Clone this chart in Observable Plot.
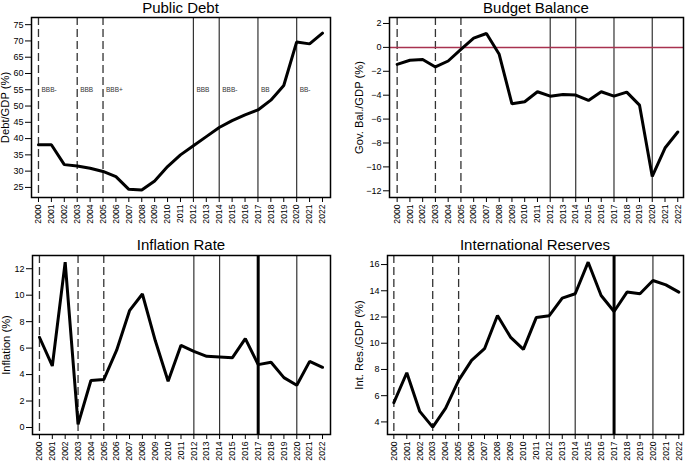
<!DOCTYPE html>
<html>
<head>
<meta charset="utf-8">
<script src="https://cdn.jsdelivr.net/npm/d3@7"></script>
<script src="https://cdn.jsdelivr.net/npm/@observablehq/plot@0.6"></script>
<style>
  html, body { margin: 0; padding: 0; background: white; }
  body { width: 685px; height: 461px; position: relative; overflow: hidden; font-family: "Liberation Sans", Arial, sans-serif; }
  .panel { position: absolute; }
  .title { font-size: 15px; line-height: 16px; height: 16px; text-align: center; color: #000; white-space: nowrap; box-sizing: border-box; }
  svg { display: block; }
</style>
</head>
<body>
<div id="root"></div>
<script>
const years = d3.range(2000, 2023);
const debt = [38.1, 38.1, 32.0, 31.6, 30.9, 29.9, 28.3, 24.4, 24.2, 27.0, 31.4, 35.0, 37.8, 40.6, 43.4, 45.5, 47.3, 48.8, 51.8, 56.3, 69.7, 69.1, 72.4];
const balance = [-1.42, -1.08, -1.02, -1.64, -1.14, -0.16, 0.77, 1.16, -0.58, -4.72, -4.55, -3.71, -4.08, -3.94, -3.99, -4.44, -3.71, -4.08, -3.74, -4.83, -10.8, -8.42, -7.08];
const inflation = [6.82, 4.65, 12.5, 0.23, 3.55, 3.62, 5.84, 8.83, 10.09, 6.57, 3.5, 6.21, 5.76, 5.38, 5.33, 5.28, 6.72, 4.75, 4.93, 3.77, 3.19, 5.0, 4.55];
const reserves = [5.47, 7.75, 4.8, 3.6, 5.05, 7.17, 8.69, 9.58, 12.12, 10.47, 9.53, 11.97, 12.1, 13.44, 13.77, 16.18, 13.64, 12.42, 13.9, 13.77, 14.78, 14.45, 13.9];

const dashedYears = [2000, 2003, 2005];
const solidYears = [2012, 2014, 2017, 2020];
const ratingYears = [2000, 2003, 2005, 2012, 2014, 2017, 2020];
const ratingLabels = ["BBB-", "BBB", "BBB+", "BBB", "BBB-", "BB", "BB-"];
const ratingLevel = 55;

const titles = ["Public Debt", "Budget Balance", "Inflation Rate", "International Reserves"];
const yLabels = ["Debt/GDP (%)", "Gov. Bal./GDP (%)", "Inflation (%)", "Int. Res./GDP (%)"];
const yTicks = [d3.range(25, 80, 5), d3.range(-12, 4, 2), d3.range(0, 14, 2), d3.range(4, 18, 2)];

const panels = [
  {values: debt, left: 0, top: 0, width: 342, ml: 31, mr: 12, mt: 1, xdom: [1999.46, 2022.62], ydom: [21.9, 77.2], ticks: yTicks[0], labelDx: -26, ratings: true, thick2017: false},
  {values: balance, left: 342, top: 0, width: 343, ml: 47, mr: 2, mt: 1, xdom: [1999.4, 2022.45], ydom: [-12.56, 2.5], ticks: yTicks[1], labelDx: -30, zero: true, thick2017: false},
  {values: inflation, left: 0, top: 237, width: 342, ml: 32, mr: 12, mt: 2, xdom: [1999.46, 2022.62], ydom: [-0.53, 13.0], ticks: yTicks[2], labelDx: -26.5, thick2017: true},
  {values: reserves, left: 342, top: 237, width: 343, ml: 45, mr: 2, mt: 2, xdom: [1999.51, 2022.36], ydom: [3.04, 16.69], ticks: yTicks[3], labelDx: -28, thick2017: true}
];

const root = document.getElementById("root");
panels.forEach((p, i) => {
  const data = years.map((y, k) => ({year: y, value: p.values[k]}));
  const marks = [
    Plot.axisX({ticks: years, tickFormat: d => String(d), tickRotate: -90, tickSize: 5, tickPadding: 2, fontSize: 8.6, label: null}),
    Plot.axisY({ticks: p.ticks, tickSize: 6, tickPadding: 2, fontSize: 9, label: null}),
    Plot.ruleX(dashedYears, {stroke: "#333", strokeWidth: 1.3, strokeDasharray: "8,4"}),
    Plot.ruleX(p.thick2017 ? solidYears.filter(y => y !== 2017) : solidYears, {stroke: "#333", strokeWidth: 1.2}),
  ];
  if (p.thick2017) marks.push(Plot.ruleX([2017], {stroke: "#000", strokeWidth: 3}));
  if (p.zero) marks.push(Plot.ruleY([0], {stroke: "#a8324f", strokeWidth: 1.5}));
  if (p.ratings) {
    marks.push(Plot.text(ratingYears.map((y, k) => ({year: y, label: ratingLabels[k]})), {
      x: "year", y: () => ratingLevel, text: "label", textAnchor: "start", dx: 3, fontSize: 6.5, fill: "#333"
    }));
  }
  marks.push(Plot.line(data, {x: "year", y: "value", stroke: "black", strokeWidth: 3, strokeLinejoin: "miter"}));
  marks.push(Plot.frame({stroke: "black", strokeWidth: 1.5}));
  marks.push(Plot.text([yLabels[i]], {frameAnchor: "left", textAnchor: "middle", rotate: -90, dx: p.labelDx, fontSize: 11.2, fill: "black"}));

  const chart = Plot.plot({
    width: p.width,
    height: 214,
    marginLeft: p.ml,
    marginRight: p.mr,
    marginTop: p.mt,
    marginBottom: 33,
    style: {fontFamily: "'Liberation Sans', Arial, sans-serif", fontSize: "9px", background: "transparent", overflow: "visible", color: "black"},
    x: {type: "linear", domain: p.xdom},
    y: {domain: p.ydom},
    marks
  });

  const div = document.createElement("div");
  div.className = "panel";
  div.style.left = p.left + "px";
  div.style.top = p.top + "px";
  div.style.width = p.width + "px";
  const t = document.createElement("div");
  t.className = "title";
  t.style.paddingLeft = p.ml + "px";
  t.style.paddingRight = p.mr + "px";
  t.textContent = titles[i];
  div.appendChild(t);
  div.appendChild(chart);
  root.appendChild(div);
});
</script>
</body>
</html>
